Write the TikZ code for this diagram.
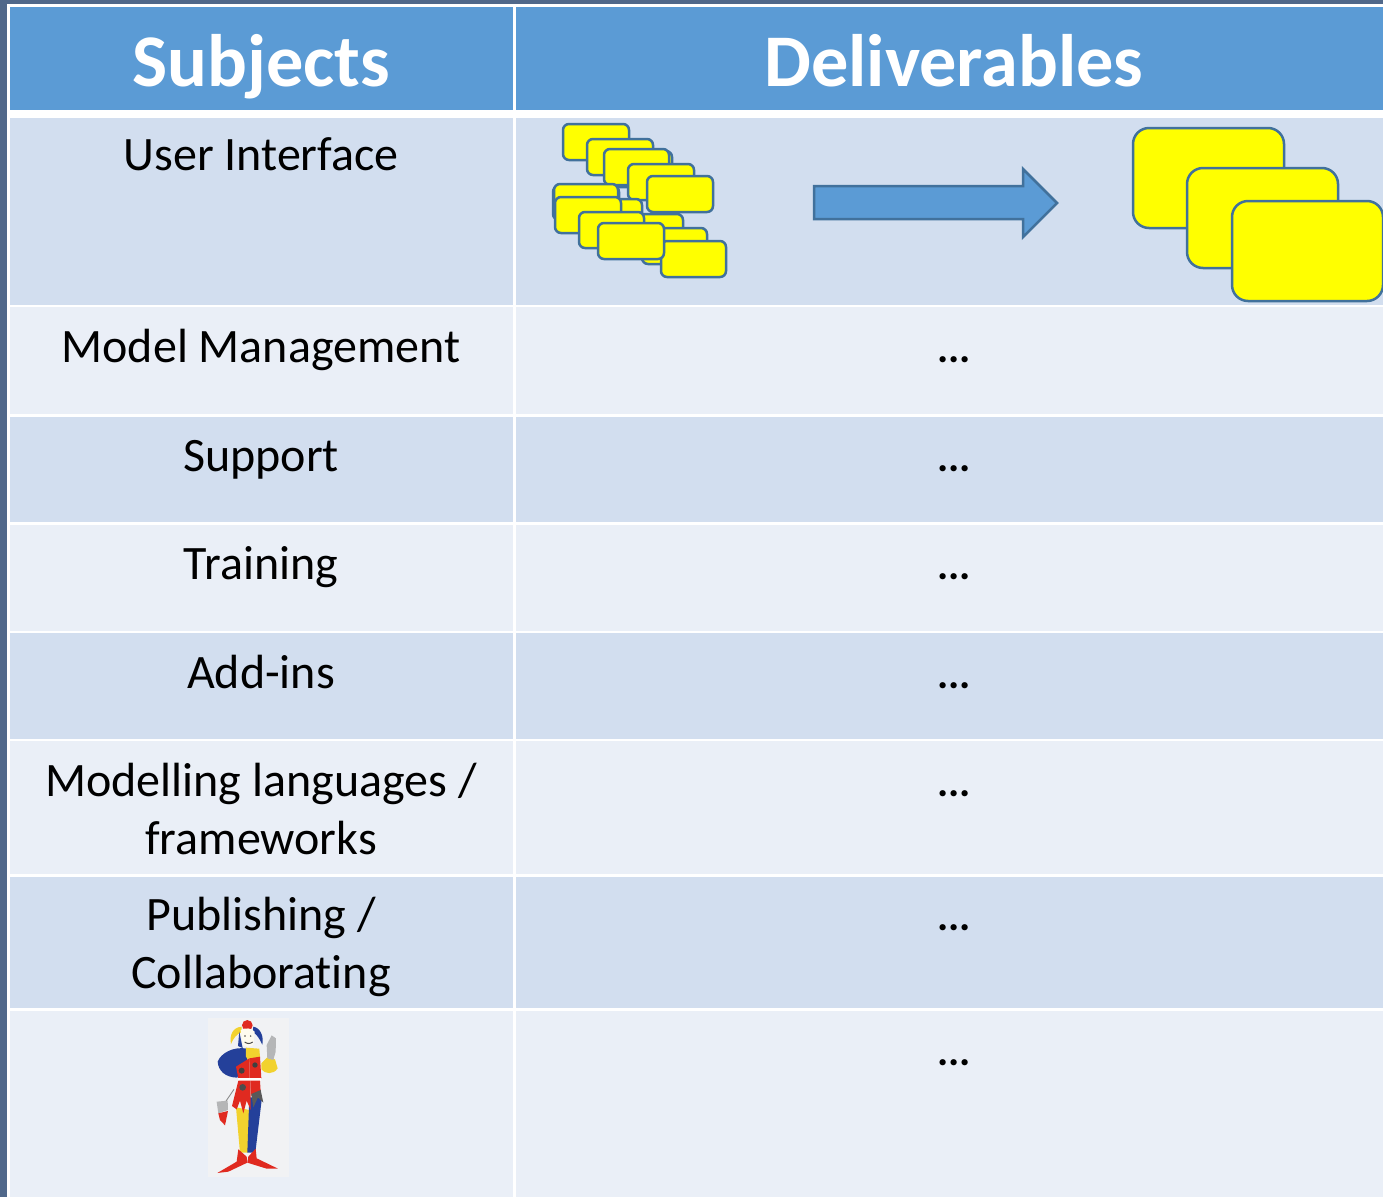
\documentclass[tikz,border=0pt]{standalone}
\usepackage{fontspec}
\setmainfont[Ligatures=NoCommon]{Carlito}
\definecolor{hdr}{HTML}{5B9BD5}
\definecolor{rowa}{HTML}{D2DEEF}
\definecolor{rowb}{HTML}{EAEFF7}
\definecolor{edge}{HTML}{41719C}
\definecolor{slate}{HTML}{50688A}
\definecolor{jblue}{HTML}{24409A}
\definecolor{jred}{HTML}{E02A20}
\definecolor{jyel}{HTML}{F2D22E}
\definecolor{cardy}{HTML}{FFFF00}
\definecolor{paper}{HTML}{F1F2F4}
\tikzset{
 x=1pt,y=-1pt,
 txt/.style={anchor=base,align=center,inner sep=0pt,font=\fontsize{48}{48}\selectfont,text=black},
 dotstxt/.style={anchor=base,inner sep=0pt,font=\fontsize{42}{42}\selectfont\bfseries,text=black},
 head/.style={anchor=base,inner sep=0pt,font=\fontsize{74.3}{74}\selectfont\bfseries,text=white},
 card/.style={draw=edge,fill=cardy,line width=2.5pt,rounded corners=6pt},
 bigcard/.style={draw=edge,fill=cardy,line width=2.5pt,rounded corners=16pt},
 bigarrow/.style={draw=edge,fill=hdr,line width=2.5pt,line join=miter}
}
\newcommand{\cardat}[4]{\draw[card] (#1,#2) rectangle (#3,#4);}
\newcommand{\tablerow}[3]{\fill[#1] (10,#2) rectangle (513,#3);\fill[#1] (516,#2) rectangle (1383,#3);}
\begin{document}
\begin{tikzpicture}
\useasboundingbox (0,0) rectangle (1383,1197);
\fill[slate] (0,0) rectangle (1383,1197);
\fill[white] (7,4) rectangle (1383,1197);
\tablerow{hdr}{7}{110}
\tablerow{rowa}{118}{305}
\tablerow{rowb}{307}{414}
\tablerow{rowa}{417}{522}
\tablerow{rowb}{525}{631}
\tablerow{rowa}{633}{739}
\tablerow{rowb}{741}{874}
\tablerow{rowa}{877}{1008}
\tablerow{rowb}{1011}{1197}
% headers
\node[head] (hs) at (261,86) {Subjects};
\node[head] (hd) at (954,86) {Deliverables};
% subjects
\node[txt] (s1) at (261,170) {User Interface};
\node[txt] (s2) at (261,362) {Model Management};
\node[txt] (s3) at (261,471) {Support};
\node[txt] (s4) at (261,579) {Training};
\node[txt] (s5) at (261,688) {Add-ins};
\node[txt] (s6a) at (261,796) {Modelling languages /};
\node[txt] (s6b) at (261,854) {frameworks};
\node[txt] (s7a) at (261,930) {Publishing /};
\node[txt] (s7b) at (261,988) {Collaborating};
% dots
\node[dotstxt] (d2) at (954,362) {...};
\node[dotstxt] (d3) at (954,471) {...};
\node[dotstxt] (d4) at (954,579) {...};
\node[dotstxt] (d5) at (954,688) {...};
\node[dotstxt] (d6) at (954,796) {...};
\node[dotstxt] (d7) at (954,930) {...};
\node[dotstxt] (d8) at (954,1065) {...};
% small cards
\cardat{563}{124}{629}{160}
\cardat{587}{139}{653}{175}
\cardat{606}{151}{672}{187}
\cardat{604}{149}{669}{185}
\cardat{628}{164}{694}{200}
\cardat{647}{176}{713}{212}
\cardat{553}{186}{619}{220}
\cardat{554}{184}{618}{218}
\cardat{578}{199}{642}{235}
\cardat{555}{197}{621}{233}
\cardat{618}{214}{683}{250}
\cardat{579}{212}{644}{248}
\cardat{642}{228}{707}{264}
\cardat{661}{241}{726}{277}
\cardat{598}{223}{664}{259}
% arrow
\draw[bigarrow] (814,186) -- (1023,186) -- (1023,169) -- (1057,203) -- (1023,237) -- (1023,219) -- (814,219) -- cycle;
% big cards
\draw[bigcard] (1133,128) rectangle (1284,228);
\draw[bigcard] (1187,168) rectangle (1338,268);
\draw[bigcard] (1232,201) rectangle (1383,301);
% joker (coordinates in 3x crop space)
\begin{scope}[shift={(190,1010)},x=0.3333pt,y=-0.3333pt]
\fill[paper] (55,25) rectangle (297,500);
% hat
\fill[jyel] (155,50) .. controls (128,52) and (118,75) .. (123,102) .. controls (130,85) and (140,72) .. (155,66) -- cycle;
\fill[jblue] (190,50) .. controls (212,54) and (222,80) .. (217,104) .. controls (208,85) and (200,72) .. (188,66) -- cycle;
\fill[jblue] (148,65) -- (158,114) -- (144,108) -- cycle;
\fill[jred] (172,46) circle (16);
% face
\fill[white!92!jyel] (152,60) .. controls (165,52) and (185,54) .. (194,65) -- (190,105) .. controls (180,113) and (165,112) .. (158,103) -- cycle;
\draw[line width=1pt,black!70] (164,96) .. controls (172,102) and (180,102) .. (188,96);
\fill[black!70] (165,78) circle (2.5) (182,78) circle (2.5);
% arms and torso
\fill[jblue] (172,116) .. controls (130,108) and (92,130) .. (83,155) .. controls (85,182) and (105,202) .. (142,203) -- (158,165) -- (172,150) -- cycle;
\fill[jyel] (168,113) -- (208,116) -- (210,140) -- (190,172) -- (168,140) -- cycle;
\fill[jyel] (214,160) -- (232,142) -- (255,148) -- (263,175) .. controls (250,195) and (225,192) .. (214,178) -- cycle;
\fill[paper!75!black] (232,145) -- (230,105) -- (245,76) -- (258,85) -- (257,125) -- (250,150) -- cycle;
% body
\fill[jred] (138,170) -- (178,145) -- (178,205) -- (145,205) -- cycle;
\fill[jred] (178,145) -- (210,140) -- (214,205) -- (178,205) -- cycle;
\fill[black!75] (155,182) circle (9) (195,165) circle (8);
\fill[white] (145,205) rectangle (212,212);
% legs
\fill[jyel] (138,292) -- (178,300) -- (174,428) -- (150,428) -- cycle;
\fill[jblue] (178,262) -- (216,262) -- (196,428) -- (172,428) -- cycle;
% skirt
\fill[jred] (145,212) -- (182,212) -- (182,300) -- (170,272) -- (160,310) -- (150,272) -- (140,298) -- (126,288) -- cycle;
\fill[jred] (182,212) -- (210,212) -- (212,245) -- (184,258) -- cycle;
\fill[black!70] (158,232) circle (10);
\fill[black!65] (184,252) -- (212,240) -- (220,278) -- (204,262) -- (190,292) -- cycle;
% shoes
\fill[jred] (145,418) -- (170,440) -- (172,458) -- (115,485) -- (82,489) -- (140,455) -- cycle;
\fill[jred] (197,416) -- (175,440) -- (172,458) -- (230,476) -- (264,476) -- (200,445) -- cycle;
% bauble
\draw[black!45,line width=0.9pt] (132,238) -- (100,285);
\fill[paper!75!black] (80,275) -- (113,272) -- (114,300) -- (85,310) -- cycle;
\fill[jred] (85,310) -- (114,303) -- (105,346) -- (90,330) -- cycle;
\end{scope}
\end{tikzpicture}
\end{document}
